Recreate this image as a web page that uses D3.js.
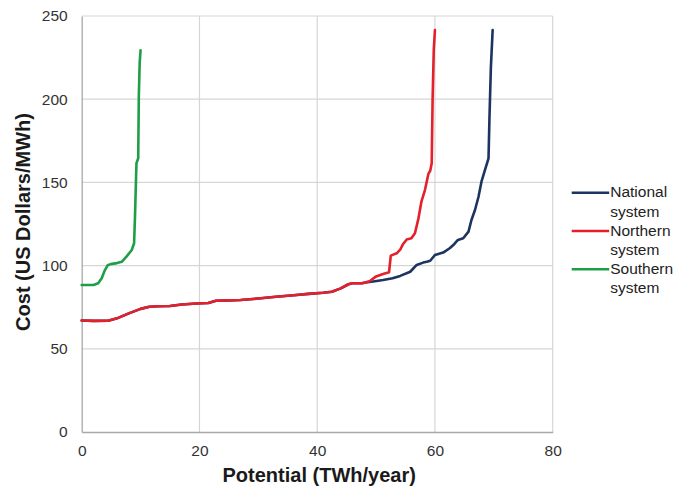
<!DOCTYPE html>
<html>
<head>
<meta charset="utf-8">
<script src="https://cdn.jsdelivr.net/npm/d3@7"></script>
<style>
  html, body { margin: 0; padding: 0; background: #fff; }
  svg { display: block; font-family: "Liberation Sans", Arial, sans-serif; }
</style>
</head>
<body>
<svg id="chart" width="677" height="490"></svg>
<script>
// Supply curves: cumulative potential (TWh/year) vs. cost (US$/MWh)
const seriesNames = ["National system", "Northern system", "Southern system"];
const seriesColors = ["#1d3461", "#e3202b", "#1f9e48"];

const xTicks = [0, 20, 40, 60, 80];
const yTicks = [0, 50, 100, 150, 200, 250];

// Shared low-cost portion of the Northern / National curves
const sharedPotential = [0, 2, 4.5, 6, 8, 10, 11.5, 13, 15, 17, 19.5, 21.5, 22.8, 25, 27, 30, 33, 36, 38.5, 41, 42.5, 44, 45.3, 46, 47.6, 48.2];
const sharedCost      = [67, 66.8, 66.9, 68.3, 71.3, 74, 75.3, 75.6, 75.7, 76.6, 77.2, 77.5, 78.9, 79.1, 79.3, 80.2, 81.3, 82.2, 83, 83.7, 84.3, 86.3, 88.8, 89.4, 89.4, 89.9];

const northernPotential = sharedPotential.concat([48.9, 50, 51.2, 52.2, 52.5, 53.5, 54.1, 54.6, 55.2, 56, 56.6, 57.2, 57.7, 58.3, 58.9, 59.2, 59.45, 59.6, 59.8, 60]);
const northernCost      = sharedCost.concat([90.6, 93.5, 95, 96, 106, 107.4, 109.6, 113, 115.7, 116.4, 119.4, 128.4, 138.4, 145.4, 155.3, 157, 161.5, 199.5, 229.6, 241.6]);

const nationalPotential = sharedPotential.concat([49.5, 51.2, 52.8, 54.1, 55.8, 56.9, 58, 58.6, 59.2, 60, 61.4, 62.5, 63.3, 63.9, 64.8, 65.7, 66.2, 66.8, 67.4, 67.9, 68.5, 69.1, 69.25, 69.5, 69.8]);
const nationalCost      = sharedCost.concat([90.4, 91.3, 92.4, 93.8, 96.3, 100.4, 101.8, 102.3, 102.9, 106.4, 107.8, 110.4, 113, 115.4, 116.4, 120.4, 127.4, 133.4, 141.4, 150.4, 157.5, 164.5, 187.5, 219, 241.6]);

const southernPotential = [0, 2, 2.8, 3.4, 3.9, 4.4, 4.9, 6, 6.8, 7.6, 8.5, 8.9, 9.05, 9.3, 9.6, 9.7, 9.85, 10];
const southernCost      = [88.3, 88.3, 89.4, 92.4, 97, 100.2, 100.9, 101.5, 102.3, 105.4, 109.4, 113.4, 129.4, 161.5, 164.5, 201.5, 222, 229.4];

const series = [
  { name: seriesNames[0], color: seriesColors[0], xs: nationalPotential, ys: nationalCost },
  { name: seriesNames[1], color: seriesColors[1], xs: northernPotential, ys: northernCost },
  { name: seriesNames[2], color: seriesColors[2], xs: southernPotential, ys: southernCost }
];

const svg = d3.select("#chart");
const plot = { left: 81.7, right: 552.7, top: 16, bottom: 432 };

const x = d3.scaleLinear().domain([0, 80]).range([plot.left, plot.right]);
const y = d3.scaleLinear().domain([0, 250]).range([plot.bottom, plot.top]);

// Gridlines
const grid = svg.append("g");
grid.selectAll("line.h").data(yTicks.filter(d => d > 0)).join("line")
  .attr("x1", plot.left).attr("x2", plot.right)
  .attr("y1", d => y(d)).attr("y2", d => y(d))
  .attr("stroke", "#d6d6d6").attr("stroke-width", 1.2);
grid.selectAll("line.v").data(xTicks.filter(d => d > 0)).join("line")
  .attr("y1", plot.top).attr("y2", plot.bottom)
  .attr("x1", d => x(d)).attr("x2", d => x(d))
  .attr("stroke", "#d6d6d6").attr("stroke-width", 1.2);

// Axes
const xAxis = svg.append("g")
  .attr("transform", `translate(0,${plot.bottom})`)
  .call(d3.axisBottom(x).tickValues(xTicks).tickSize(0).tickPadding(13));
const yAxis = svg.append("g")
  .attr("transform", `translate(${plot.left},0)`)
  .call(d3.axisLeft(y).tickValues(yTicks).tickSize(0).tickPadding(14));
[xAxis, yAxis].forEach(a => {
  a.select(".domain").attr("stroke", "#a8a8a8").attr("stroke-width", 1.3);
  a.selectAll("text")
    .attr("font-family", "Liberation Sans, Arial, sans-serif")
    .attr("font-size", 15.5)
    .attr("fill", "#333");
});

// Curves
const line = d3.line().x(d => x(d[0])).y(d => y(d[1]));
svg.append("g").selectAll("path").data(series).join("path")
  .attr("d", s => line(s.xs.map((v, i) => [v, s.ys[i]])))
  .attr("fill", "none")
  .attr("stroke", s => s.color)
  .attr("stroke-width", 2.6)
  .attr("stroke-linejoin", "round")
  .attr("stroke-linecap", "round");

// Axis titles
svg.append("text")
  .attr("x", (plot.left + plot.right) / 2 + 2).attr("y", 482)
  .attr("text-anchor", "middle")
  .attr("font-size", 20).attr("font-weight", "bold").attr("fill", "#1a1a1a")
  .text("Potential (TWh/year)");
svg.append("text")
  .attr("transform", `translate(30,${(plot.top + plot.bottom) / 2 - 2}) rotate(-90)`)
  .attr("text-anchor", "middle")
  .attr("font-size", 20).attr("font-weight", "bold").attr("fill", "#1a1a1a")
  .text("Cost (US Dollars/MWh)");

// Legend
const legend = svg.append("g").attr("transform", "translate(571.7,192.7)");
const entry = legend.selectAll("g").data(series).join("g")
  .attr("transform", (d, i) => `translate(0,${i * 38.3})`);
entry.append("line")
  .attr("x1", 0).attr("x2", 37.5).attr("y1", 0).attr("y2", 0)
  .attr("stroke", d => d.color).attr("stroke-width", 2.6);
const label = entry.append("text")
  .attr("x", 38.5).attr("y", 4.5)
  .attr("font-size", 15.5).attr("fill", "#222");
label.append("tspan").text(d => d.name.split(" ")[0]);
label.append("tspan").attr("x", 38.5).attr("dy", 19.5).text(d => d.name.split(" ")[1]);
</script>
</body>
</html>
